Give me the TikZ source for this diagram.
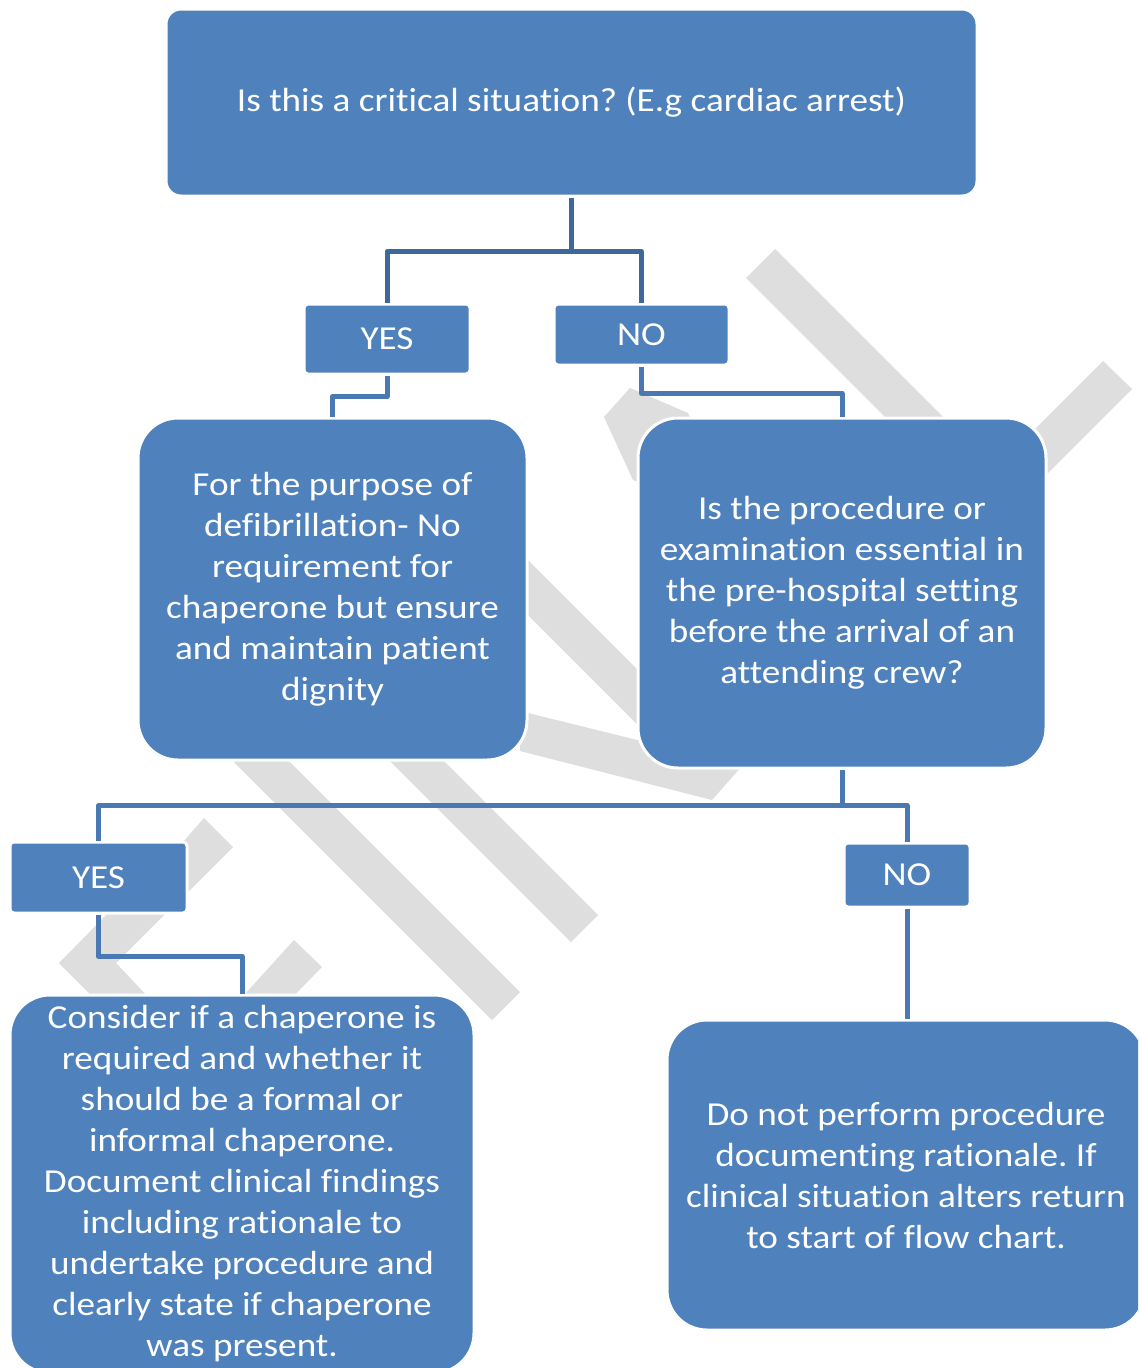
\documentclass[tikz,border=0pt]{standalone}
\usepackage{fontspec}
\setmainfont{Carlito}[FakeStretch=1.11, Ligatures={NoCommon}]
\frenchspacing
\definecolor{boxblue}{HTML}{4F81BD}
\definecolor{connblue}{HTML}{4A78B2}
\definecolor{conntop}{HTML}{3D689C}
\definecolor{wmgray}{HTML}{DEDEDE}
\begin{document}
\begin{tikzpicture}[x=1pt,y=-1pt,
  box/.style={fill=boxblue, draw=white, line width=3pt, text=white, align=center,
    font=\fontsize{33.5}{41}\selectfont, inner sep=0pt},
  bigbox/.style={box, rounded corners=40pt},
  tagbox/.style={box, rounded corners=4pt},
  conn/.style={draw=connblue, line width=5pt, line join=round},
  conntopstyle/.style={draw=conntop, line width=5pt, line join=round},
  wm/.style={fill=wmgray}]
\useasboundingbox (0,0) rectangle (1138,1368);
\clip (0,0) rectangle (1138,1368);
\fill[white] (0,0) rectangle (1138,1368);
% watermark
\fill[wm] (746,278) -- (775,249) -- (986,460) -- (928,460) -- cycle;
\fill[wm] (1103,361) -- (1132,389) -- (1000,521) -- (1000,464) -- cycle;
\fill[wm] (604,417) -- (630,388) -- (688,413) -- (700,440) -- (660,490) -- (633,480) -- cycle;
\fill[wm] (520,552) -- (645,677) -- (645,732) -- (520,607) -- cycle;
\fill[wm] (520,711) -- (742,766) -- (712,800) -- (520,751) -- cycle;
\fill[wm] (222,750) -- (278,750) -- (520,992) -- (492,1020) -- cycle;
\fill[wm] (379,750) -- (433,750) -- (598,915) -- (571,942) -- cycle;
\fill[wm] (204,818) -- (233,847) -- (175,905) -- (150,880) -- cycle;
\fill[wm] (116,905) -- (174,905) -- (116,963) -- (151,1000) -- (96,1000) -- (59,963) -- cycle;
\fill[wm] (235,1005) -- (294,940) -- (322,967) -- (285,1005) -- cycle;
% boxes
\node[box, rounded corners=15pt, minimum width=811pt, minimum height=187pt] (top) at (571.5,102.5)
  {Is this a critical situation? (E.g cardiac arrest)};
\node[tagbox, minimum width=166pt, minimum height=70pt] (yes1) at (387,339) {YES};
\node[tagbox, minimum width=175pt, minimum height=61pt] (no1) at (641.5,334.5) {NO};
\node[bigbox, minimum width=389pt, minimum height=342pt] (left) at (332.5,589)
  {For the purpose of\\defibrillation- No\\requirement for\\chaperone but ensure\\and maintain patient\\dignity};
\node[bigbox, minimum width=408pt, minimum height=350pt] (right) at (842,593)
  {Is the procedure or\\examination essential in\\the pre-hospital setting\\before the arrival of an\\attending crew?};
\node[tagbox, minimum width=177pt, minimum height=71pt] (yes2) at (98.5,877.5) {YES};
\node[tagbox, minimum width=126pt, minimum height=64pt] (no2) at (907,875) {NO};
\node[bigbox, minimum width=464pt, minimum height=378pt] (consider) at (242,1184)
  {Consider if a chaperone is\\required and whether it\\should be a formal or\\informal chaperone.\\Document clinical findings\\including rationale to\\undertake procedure and\\clearly state if chaperone\\was present.};
\node[bigbox, minimum width=478pt, minimum height=310pt] (donot) at (906,1175)
  {Do not perform procedure\\documenting rationale. If\\clinical situation alters return\\to start of flow chart.};
% connectors
\draw[conntopstyle] (top.south) -- ++(0,54) coordinate (j1);
\draw[conntopstyle] (j1) -| (yes1.north);
\draw[conntopstyle] (j1) -| (no1.north);
\draw[conn] (yes1.south) -- ++(0,21) -| (left.north);
\draw[conn] (no1.south) -- ++(0,27) -| (right.north);
\draw[conn] (right.south) -- ++(0,36) coordinate (j2);
\draw[conn] (j2) -| (yes2.north);
\draw[conn] (j2) -| (no2.north);
\draw[conn] (yes2.south) -- ++(0,42) -| (consider.north);
\draw[conn] (no2.south) -- (no2.south |- donot.north);
\end{tikzpicture}
\end{document}
